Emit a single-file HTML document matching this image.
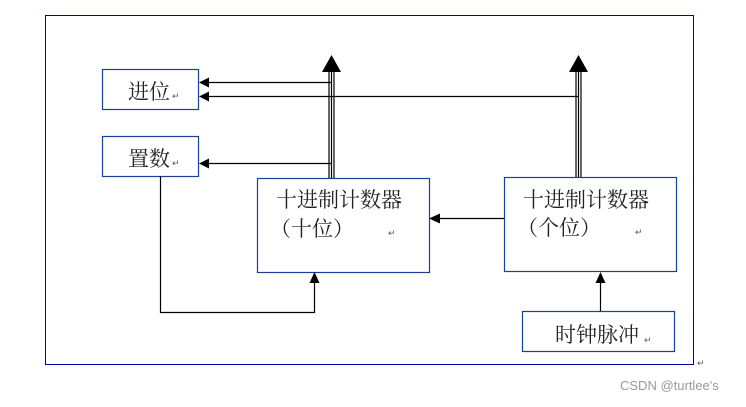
<!DOCTYPE html><html><head><meta charset="utf-8"><style>body{margin:0;background:#fff}</style></head><body>
<svg width="746" height="402" xmlns="http://www.w3.org/2000/svg" font-family="Liberation Serif, Noto Serif CJK SC, serif">
<rect x="45.5" y="15.5" width="648" height="349" fill="none" stroke="#0000aa" stroke-width="1"/>
<g fill="none" stroke="#1a3e9a" stroke-width="1.2">
<rect x="102.5" y="69.5" width="96" height="40"/>
<rect x="102.5" y="136.5" width="96" height="40"/>
<rect x="257.5" y="178.5" width="172" height="94"/>
<rect x="504.5" y="177.5" width="172" height="94"/>
<rect x="522.5" y="311.5" width="152" height="40"/>
</g>
<g stroke="#000" stroke-width="1.2" fill="none">
<line x1="329" y1="70" x2="329" y2="178"/><line x1="331.5" y1="70" x2="331.5" y2="178"/><line x1="334" y1="70" x2="334" y2="178"/>
<line x1="576" y1="70" x2="576" y2="177"/><line x1="578.5" y1="70" x2="578.5" y2="177"/><line x1="581" y1="70" x2="581" y2="177"/>
<line x1="208" y1="82.5" x2="331" y2="82.5"/>
<line x1="208" y1="96.5" x2="578" y2="96.5"/>
<line x1="208" y1="163.5" x2="331" y2="163.5"/>
<line x1="439" y1="218.5" x2="504" y2="218.5"/>
<line x1="600.5" y1="282" x2="600.5" y2="311"/>
<polyline points="160.5,176 160.5,312.5 314.5,312.5 314.5,282"/>
</g>
<g fill="#000">
<polygon points="331.5,55 322,72 341,72"/>
<polygon points="578.5,55 569,72 588,72"/>
<polygon points="199,82.5 209,77.5 209,87.5"/>
<polygon points="199,96.5 209,91.5 209,101.5"/>
<polygon points="199,163.5 209,158.5 209,168.5"/>
<polygon points="429,218.5 440,213.5 440,223.5"/>
<polygon points="600.5,272 595.5,283 605.5,283"/>
<polygon points="314.5,272 309.5,283 319.5,283"/>
</g>
<g font-size="21" fill="#222">
<text x="128" y="99">进位</text>
<text x="128" y="166">置数</text>
<text x="276" y="207">十进制计数器</text>
<text x="270" y="236">（十位）</text>
<text x="523" y="207">十进制计数器</text>
<text x="517" y="235">（个位）</text>
<text x="555" y="342">时钟脉冲</text>
</g>
<g font-size="9" fill="#555" font-family="Liberation Sans, sans-serif">
<text x="172" y="99">↵</text><text x="172" y="166">↵</text><text x="388" y="236">↵</text><text x="635" y="235">↵</text><text x="644" y="343">↵</text><text x="697" y="366">↵</text>
</g>
<text x="620" y="390" font-size="13" fill="#999" font-family="Liberation Sans, sans-serif">CSDN @turtlee's</text>
</svg>
</body></html>
